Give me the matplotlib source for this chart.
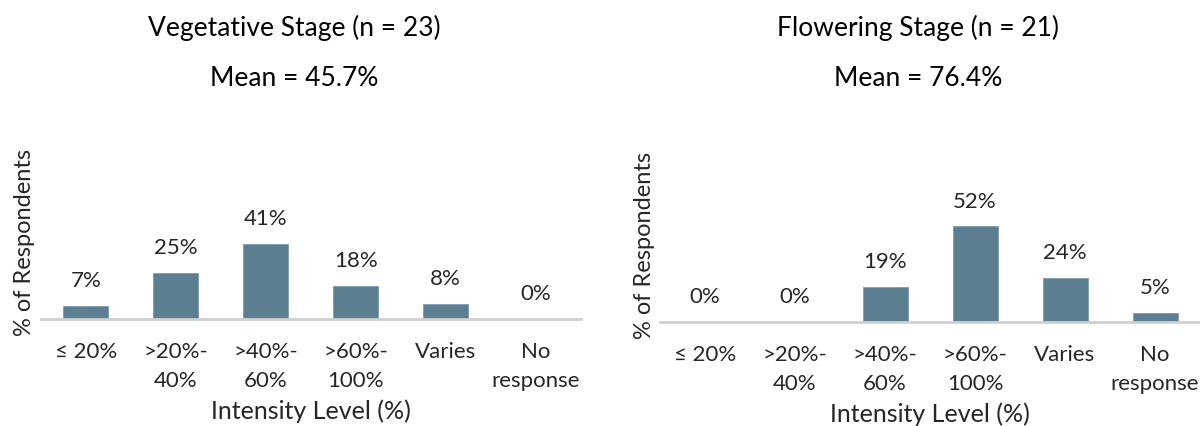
import matplotlib
matplotlib.use("Agg")
import matplotlib.pyplot as plt
import numpy as np

plt.rcParams["font.family"] = ["Lato", "DejaVu Sans"]

categories = ["\u2264 20%", ">20%-\n40%", ">40%-\n60%", ">60%-\n100%", "Varies", "No\nresponse"]
vegetative = [7, 25, 41, 18, 8, 0]
flowering = [0, 0, 19, 52, 24, 5]
panel_titles = ["Vegetative Stage (n = 23)", "Flowering Stage (n = 21)"]
panel_means = ["Mean = 45.7%", "Mean = 76.4%"]

bar_color = "#5b7e91"
text_color = "#262626"

fig = plt.figure(figsize=(12, 4.27), dpi=100, facecolor="w")

# axes rectangles in figure fractions
boxes = [[0.034, 0.251, 0.450, 0.43], [0.550, 0.244, 0.450, 0.43]]
title_x = [0.245, 0.765]

for box, vals, title, mean, tx in zip(boxes, [vegetative, flowering], panel_titles, panel_means, title_x):
    ax = fig.add_axes(box)
    x = np.arange(len(categories))
    ax.bar(x, vals, width=0.5, color=bar_color, edgecolor="#7f9cad", linewidth=0.6, zorder=2)
    for xi, v in zip(x, vals):
        ax.text(xi, v + 14, "{0}%".format(v), ha="center", va="center",
                fontsize=16, color=text_color)
    ax.set_xlim(-0.5, len(categories) - 0.5)
    ax.set_ylim(0, 100)
    ax.set_yticks([])
    ax.set_xticks(x)
    ax.set_xticklabels(categories, fontsize=16, color=text_color, linespacing=1.55)
    ax.tick_params(axis="x", length=0, pad=16)
    for side in ["top", "right", "left"]:
        ax.spines[side].set_visible(False)
    ax.spines["bottom"].set_color("#d0d0d0")
    ax.spines["bottom"].set_linewidth(2)
    ax.spines["bottom"].set_zorder(3)
    ax.set_xlabel("Intensity Level (%)", fontsize=18, color=text_color, labelpad=6)
    ax.set_ylabel("% of Respondents", fontsize=17, color=text_color)
    ax.yaxis.set_label_coords(-0.01, 0.42)

    fig.text(tx, 0.934, title, ha="center", va="center", fontsize=19, color="black")
    fig.text(tx, 0.817, mean, ha="center", va="center", fontsize=19, color="black")

fig.savefig("out.png", dpi=100, facecolor="w")
